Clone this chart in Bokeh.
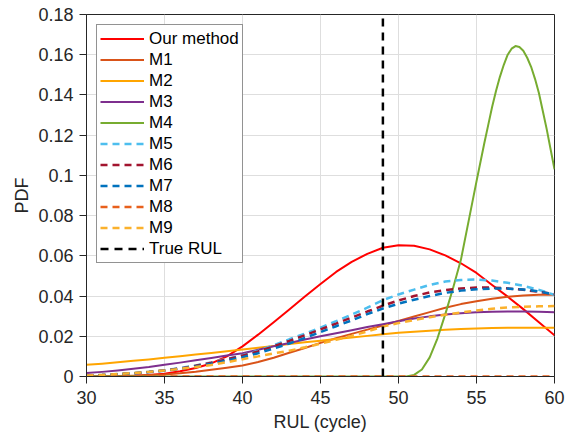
from bokeh.plotting import figure
from bokeh.models import Range1d, NumeralTickFormatter, Legend, LegendItem
from bokeh.embed import file_html
from bokeh.resources import INLINE

# ---------------- data ----------------
RUL = [30, 31, 32, 33, 34, 35, 36, 37, 38, 39, 40, 41, 42, 43, 44, 45,
       46, 47, 48, 49, 50, 51, 52, 53, 54, 55, 56, 57, 58, 59, 60]

OUR = [0.0000, 0.0000, 0.0001, 0.0003, 0.0007, 0.0014, 0.0026, 0.0042, 0.0065, 0.0100,
       0.0150, 0.0208, 0.0270, 0.0333, 0.0398, 0.0460, 0.0520, 0.0570, 0.0610, 0.0640,
       0.0653, 0.0650, 0.0632, 0.0602, 0.0563, 0.0515, 0.0455, 0.0397, 0.0335, 0.0270,
       0.0205]
M1 = [0.0000, 0.0001, 0.0002, 0.0004, 0.0007, 0.0010, 0.0016, 0.0024, 0.0034, 0.0044,
      0.0055, 0.0072, 0.0093, 0.0118, 0.0142, 0.0167, 0.0190, 0.0212, 0.0233, 0.0254,
      0.0276, 0.0298, 0.0320, 0.0342, 0.0360, 0.0374, 0.0387, 0.0397, 0.0403, 0.0406,
      0.0407]
M2 = [0.0058, 0.0064, 0.0071, 0.0078, 0.0085, 0.0093, 0.0101, 0.0109, 0.0117, 0.0125,
      0.0134, 0.0143, 0.0152, 0.0162, 0.0170, 0.0178, 0.0186, 0.0194, 0.0202, 0.0210,
      0.0217, 0.0223, 0.0228, 0.0232, 0.0236, 0.0239, 0.0241, 0.0242, 0.0243, 0.0243,
      0.0243]
M3 = [0.0017, 0.0023, 0.0030, 0.0038, 0.0047, 0.0058, 0.0069, 0.0081, 0.0092, 0.0104,
      0.0116, 0.0133, 0.0150, 0.0167, 0.0184, 0.0200, 0.0215, 0.0230, 0.0246, 0.0260,
      0.0275, 0.0288, 0.0299, 0.0308, 0.0314, 0.0319, 0.0322, 0.0323, 0.0323, 0.0322,
      0.0320]
M4_RUL = [30, 35, 40, 45, 50, 50.5, 51, 51.5, 52, 52.5, 53, 53.5, 54, 54.5, 55, 55.5,
          55.75, 56, 56.25, 56.5, 56.75, 57, 57.25, 57.5, 57.75, 58, 58.25, 58.5, 58.75,
          59, 59.25, 59.5, 59.75, 60]
M4 = [0.0, 0.0, 0.0, 0.0, 0.0, 0.0, 0.0008, 0.0035, 0.0095, 0.0190, 0.0310, 0.0440,
      0.0580, 0.0775, 0.0970, 0.1160, 0.1250, 0.1340, 0.1420, 0.1490, 0.1550, 0.1600,
      0.1630, 0.1643, 0.1638, 0.1620, 0.1585, 0.1540, 0.1480, 0.1410, 0.1320, 0.1230,
      0.1130, 0.1030]
M5 = [0.0005, 0.0008, 0.0012, 0.0017, 0.0023, 0.0031, 0.0042, 0.0055, 0.0070, 0.0087,
      0.0106, 0.0128, 0.0155, 0.0185, 0.0213, 0.0243, 0.0275, 0.0308, 0.0342, 0.0380,
      0.0408, 0.0432, 0.0455, 0.0472, 0.0480, 0.0482, 0.0477, 0.0466, 0.0451, 0.0431,
      0.0406]
M6 = [0.0004, 0.0007, 0.0011, 0.0016, 0.0022, 0.0030, 0.0040, 0.0053, 0.0068, 0.0085,
      0.0104, 0.0125, 0.0150, 0.0177, 0.0205, 0.0234, 0.0263, 0.0293, 0.0323, 0.0352,
      0.0378, 0.0400, 0.0418, 0.0430, 0.0438, 0.0442, 0.0442, 0.0438, 0.0431, 0.0421,
      0.0410]
M7 = [0.0004, 0.0007, 0.0011, 0.0016, 0.0022, 0.0029, 0.0038, 0.0050, 0.0064, 0.0079,
      0.0096, 0.0116, 0.0139, 0.0164, 0.0192, 0.0221, 0.0250, 0.0279, 0.0310, 0.0338,
      0.0362, 0.0382, 0.0400, 0.0416, 0.0427, 0.0434, 0.0437, 0.0437, 0.0433, 0.0423,
      0.0408]
M8 = [0.0] * 31
M9 = [0.0005, 0.0008, 0.0012, 0.0017, 0.0023, 0.0030, 0.0038, 0.0047, 0.0057, 0.0071,
      0.0086, 0.0100, 0.0115, 0.0128, 0.0145, 0.0163, 0.0182, 0.0202, 0.0224, 0.0248,
      0.0266, 0.0281, 0.0295, 0.0307, 0.0318, 0.0328, 0.0337, 0.0343, 0.0347, 0.0349,
      0.0350]
TRUE_RUL_X = [49, 49]
TRUE_RUL_Y = [0.0, 0.18]

X_TICKS = [30, 35, 40, 45, 50, 55, 60]
Y_TICKS = [0, 0.02, 0.04, 0.06, 0.08, 0.1, 0.12, 0.14, 0.16, 0.18]

FONT = "Liberation Sans"
TXT = "#262626"

p = figure(width=572, height=435, output_backend="svg", toolbar_location=None,
           x_range=Range1d(30, 60), y_range=Range1d(0, 0.18),
           min_border_left=86, min_border_right=18, min_border_top=14, min_border_bottom=59,
           background_fill_color="white", border_fill_color="white")

series = [
    ("Our method", RUL, OUR, "#ff0000", None),
    ("M1", RUL, M1, "#d95319", None),
    ("M2", RUL, M2, "#ffa500", None),
    ("M3", RUL, M3, "#7e2f8e", None),
    ("M4", M4_RUL, M4, "#77ac30", None),
    ("M5", RUL, M5, "#4dbeee", "7 5"),
    ("M6", RUL, M6, "#a2142f", "7 5"),
    ("M7", RUL, M7, "#0072bd", "7 5"),
    ("M8", RUL, M8, "#e8601c", "7 5"),
    ("M9", RUL, M9, "#fbb12c", "7 5"),
]

items = []
for name, xs, ys, col, dash in series:
    if dash is None:
        r = p.line(xs, ys, line_color=col, line_width=2, line_join="round")
    else:
        r = p.line(xs, ys, line_color=col, line_width=2.5, line_dash=dash)
    items.append(LegendItem(label=name, renderers=[r]))

rt = p.line(TRUE_RUL_X, TRUE_RUL_Y, line_color="black", line_width=2.5, line_dash="8 6")
items.append(LegendItem(label="True RUL", renderers=[rt]))

legend = Legend(items=items, location="top_left", margin=10, padding=3, spacing=0,
                label_height=21, glyph_height=21, glyph_width=44, label_standoff=5,
                label_width=90,
                label_text_font=FONT, label_text_font_size="17px", label_text_color="black",
                border_line_color=TXT, border_line_width=1, background_fill_color="white",
                background_fill_alpha=1.0)
p.add_layout(legend)

for ax in (p.xaxis, p.yaxis):
    ax.axis_line_color = TXT
    ax.axis_line_width = 1
    ax.major_tick_line_color = TXT
    ax.major_tick_in = 0
    ax.major_tick_out = 7
    ax.minor_tick_line_color = None
    ax.major_label_text_font = FONT
    ax.major_label_text_font_size = "18px"
    ax.major_label_text_color = TXT
    ax.axis_label_text_font = FONT
    ax.axis_label_text_font_size = "18px"
    ax.axis_label_text_font_style = "normal"
    ax.axis_label_text_color = TXT

p.xaxis.ticker = X_TICKS
p.yaxis.ticker = Y_TICKS
p.yaxis.formatter = NumeralTickFormatter(format="0.[00]")
p.xaxis.axis_label = "RUL (cycle)"
p.yaxis.axis_label = "PDF"
p.xaxis.major_label_standoff = 7
p.yaxis.major_label_standoff = 6
p.xaxis.axis_label_standoff = 5
p.yaxis.axis_label_standoff = 3

p.xgrid.grid_line_color = "#dedede"
p.ygrid.grid_line_color = "#dedede"
p.outline_line_color = TXT
p.outline_line_width = 1
p.outline_line_alpha = 1

open("out.html", "w").write(file_html(p, INLINE))
